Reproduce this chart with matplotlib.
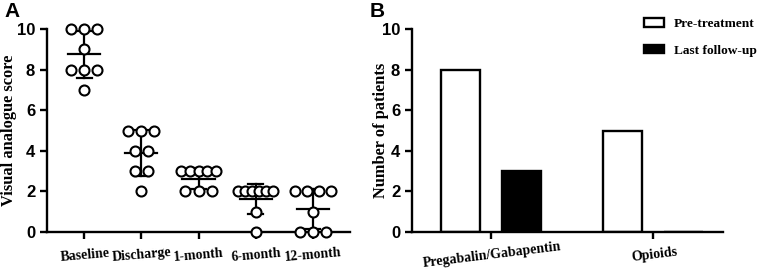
import numpy as np
import matplotlib
matplotlib.use("Agg")
import matplotlib.pyplot as plt
import matplotlib.patches as mpatches

# Panel A data: VAS scores per patient at each time point
timepoints = ["Baseline", "Discharge", "1-month", "6-month", "12-month"]
vas_scores = [
    [10, 10, 10, 9, 8, 8, 8, 7],
    [5, 5, 5, 4, 4, 3, 3, 2],
    [3, 3, 3, 3, 3, 2, 2, 2],
    [2, 2, 2, 2, 2, 2, 1, 0],
    [2, 2, 2, 2, 1, 0, 0, 0],
]

# Panel B data: number of patients per medication
drugs = ["Pregabalin/Gabapentin", "Opioids"]
pre_treatment = [8, 5]
last_followup = [3, 0]

SERIF = "Liberation Serif"
SANS = "Liberation Sans"

fig = plt.figure(figsize=(7.61, 2.77), dpi=100)
axA = fig.add_axes([47 / 761, 45 / 277, 303 / 761, 203 / 277])
axB = fig.add_axes([412 / 761, 45 / 277, 311 / 761, 203 / 277])


def style_axes(ax):
    for side in ["top", "right"]:
        ax.spines[side].set_visible(False)
    for side in ["left", "bottom"]:
        ax.spines[side].set_linewidth(1.7)
    ax.tick_params(width=1.7, length=5, color="black")
    ax.set_ylim(0, 10)
    ax.set_yticks(range(0, 11, 2))
    for lab in ax.get_yticklabels():
        lab.set_fontfamily(SANS)
        lab.set_fontweight("bold")
        lab.set_fontsize(12)


# --- Panel A: scatter with mean +/- SD ---
for i, scores in enumerate(vas_scores):
    scores = np.array(scores, dtype=float)
    xs = []
    ys = []
    for v in sorted(set(scores), reverse=True):
        k = int(np.sum(scores == v))
        step = min(0.23, 0.62 / max(k - 1, 1))
        offs = (np.arange(k) - (k - 1) / 2) * step
        xs.extend(i + offs)
        ys.extend([v] * k)
    m = scores.mean()
    sd = scores.std(ddof=1)
    axA.plot([i, i], [m - sd, m + sd], color="black", lw=1.6, zorder=2)
    axA.plot([i - 0.13, i + 0.13], [m - sd] * 2, color="black", lw=1.6, zorder=2)
    axA.plot([i - 0.13, i + 0.13], [m + sd] * 2, color="black", lw=1.6, zorder=2)
    axA.plot([i - 0.28, i + 0.28], [m, m], color="black", lw=1.6, zorder=2)
    axA.plot(xs, ys, "o", ms=7.2, mfc="white", mec="black", mew=1.5,
             clip_on=False, zorder=3)

axA.set_xlim(-0.65, 4.65)
axA.set_xticks(range(len(timepoints)))
axA.set_xticklabels(timepoints, rotation=5, rotation_mode="anchor",
                    ha="center", va="top", fontfamily=SERIF,
                    fontweight="bold", fontsize=10)
style_axes(axA)
axA.tick_params(axis="x", pad=7)
axA.set_ylabel("Visual analogue score", fontfamily=SERIF, fontweight="bold",
               fontsize=11.8, va="center")
axA.yaxis.set_label_coords(-0.127, 0.5)

# --- Panel B: grouped bars ---
x = np.arange(len(drugs))
w = 0.24
axB.bar(x - 0.188, pre_treatment, w, facecolor="white", edgecolor="black",
        lw=1.7, label="Pre-treatment")
axB.bar(x + 0.188, last_followup, w, facecolor="black", edgecolor="black",
        lw=1.7, label="Last follow-up")
axB.set_xlim(-0.49, 1.43)
axB.set_xticks(x)
axB.set_xticklabels(drugs, rotation=7, rotation_mode="anchor", ha="center",
                    va="top", fontfamily=SERIF, fontweight="bold",
                    fontsize=10)
style_axes(axB)
axB.tick_params(axis="x", pad=7)
axB.set_ylabel("Number of patients", fontfamily=SERIF, fontweight="bold",
               fontsize=11.8, va="center")
axB.yaxis.set_label_coords(-0.10, 0.5)

handles = [
    mpatches.Patch(facecolor="white", edgecolor="black", lw=1.7, label="Pre-treatment"),
    mpatches.Patch(facecolor="black", edgecolor="black", lw=1.7, label="Last follow-up"),
]
fig.legend(handles=handles, loc="upper left",
           bbox_to_anchor=(644 / 761, 1 - 18 / 277),
           frameon=False, borderpad=0, borderaxespad=0,
           handlelength=1.5, handleheight=0.6, handletextpad=0.75,
           labelspacing=1.1,
           prop={"family": SERIF, "weight": "bold", "size": 9.6})

fig.text(4 / 761, 1 - 2 / 277, "A", ha="left", va="top", fontfamily=SANS,
         fontweight="bold", fontsize=15)
fig.text(370 / 761, 1 - 2 / 277, "B", ha="left", va="top", fontfamily=SANS,
         fontweight="bold", fontsize=15)

fig.savefig("out.png", dpi=100)
